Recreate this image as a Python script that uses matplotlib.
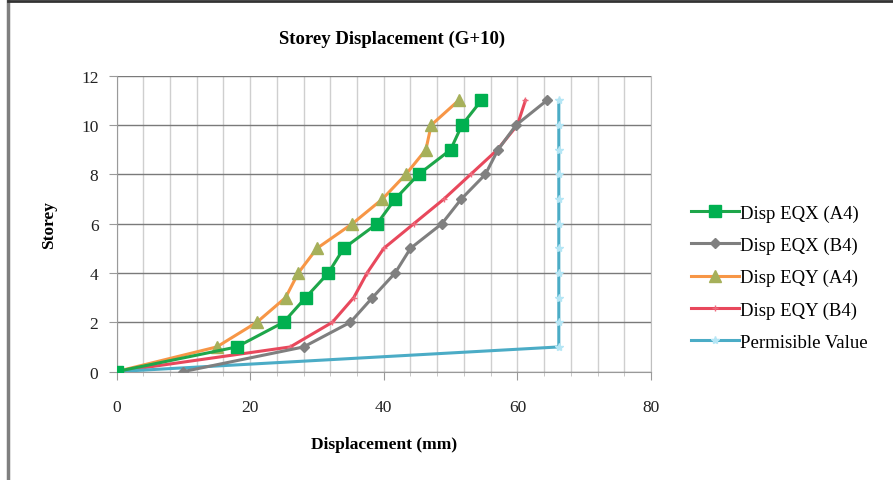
"""
Storey displacement (G+10) — recreated chart.
Output: out.png
"""

import matplotlib.pyplot as plt
from matplotlib.lines import Line2D
from matplotlib.ticker import MultipleLocator

# ---------------------------------------------------------------------------
# Data
# ---------------------------------------------------------------------------
storey = [0, 1, 2, 3, 4, 5, 6, 7, 8, 9, 10, 11]

disp_eqx_a4 = [0, 18, 25, 28.3, 31.7, 34, 39, 41.7, 45.2, 50, 51.7, 54.6]
disp_eqx_b4 = [10, 28, 35, 38.3, 41.7, 44, 48.7, 51.6, 55.2, 57.1, 59.8, 64.4]
disp_eqy_a4 = [0, 15, 21, 25.3, 27.2, 30, 35.3, 39.8, 43.3, 46.3, 47.1, 51.2]
disp_eqy_b4 = [0, 26, 32.3, 35.5, 37.5, 40, 44.5, 49, 53, 57, 60, 61.2]
permissible = [0, 66.2, 66.2, 66.2, 66.2, 66.2, 66.2, 66.2, 66.2, 66.2, 66.2, 66.2]

SERIF = ["Liberation Serif", "DejaVu Serif"]


def main():
    plt.rcParams["font.family"] = SERIF

    fig = plt.figure(figsize=(8.93, 4.81), dpi=100)
    ax = fig.add_axes([0.1305, 0.2254, 0.5985, 0.6149])

    # Series
    ax.plot(disp_eqx_a4, storey, color="#1EA64A", lw=2.2, marker="s", ms=9,
            mfc="#00B050", mec="#00B050", label="Disp EQX (A4)", zorder=5)
    ax.plot(disp_eqx_b4, storey, color="#7F7F7F", lw=2.2, marker="D", ms=5.5,
            mfc="#808080", mec="#808080", label="Disp EQX (B4)", zorder=4)
    ax.plot(disp_eqy_a4, storey, color="#F79646", lw=2.2, marker="^", ms=8,
            mfc="#A6B05A", mec="#A6B05A", label="Disp EQY (A4)", zorder=4)
    ax.plot(disp_eqy_b4, storey, color="#E8485C", lw=2.2, marker="+", ms=4,
            mec="#EE6A7C", mew=1.0, label="Disp EQY (B4)", zorder=3)
    ax.plot(permissible, storey, color="#4BACC6", lw=2.2, marker="*", ms=6,
            mfc="#B5E6F5", mec="#B5E6F5", label="Permisible Value", zorder=3)

    # Axes and grid
    ax.set_xlim(0, 80)
    ax.set_ylim(0, 12)
    ax.xaxis.set_major_locator(MultipleLocator(20))
    ax.xaxis.set_minor_locator(MultipleLocator(4))
    ax.yaxis.set_major_locator(MultipleLocator(2))

    ax.grid(True, which="both", axis="x", color="#CFCFCF", lw=1.0)
    ax.grid(True, which="major", axis="y", color="#7A7A7A", lw=1.0)
    ax.set_axisbelow(True)

    for side in ("left", "bottom"):
        ax.spines[side].set_color("#9A9A9A")
    ax.spines["right"].set_color("#BFBFBF")
    ax.spines["top"].set_visible(False)

    ax.tick_params(axis="both", which="major", direction="out", length=6,
                   color="#9A9A9A", labelsize=12.5, labelcolor="#222222")
    ax.tick_params(axis="x", which="major", pad=14)
    ax.tick_params(axis="y", which="major", pad=7)
    ax.tick_params(axis="x", which="minor", direction="out", length=3,
                   color="#BFBFBF")

    ax.set_xlabel("Displacement (mm)", fontsize=12.5, fontweight="bold",
                  labelpad=15)
    ax.set_ylabel("Storey", fontsize=12.5, fontweight="bold", labelpad=17)

    fig.text(0.439, 0.919, "Storey Displacement (G+10)", ha="center",
             va="center", fontsize=13.5, fontweight="bold")

    ax.legend(loc="center left", bbox_to_anchor=(1.06, 0.318), frameon=False,
              fontsize=13.5, handlelength=2.6, handletextpad=0.05,
              labelspacing=0.8, borderaxespad=0)

    # Chart-area border (left and top)
    fig.add_artist(Line2D([0.0095, 0.0095], [0.0, 0.995], color="#7F7F7F",
                          lw=2.5, transform=fig.transFigure))
    fig.add_artist(Line2D([0.0095, 1.0], [0.995, 0.995], color="#333333",
                          lw=2.0, transform=fig.transFigure))

    fig.savefig("out.png", dpi=100)
    plt.close(fig)


if __name__ == "__main__":
    main()
